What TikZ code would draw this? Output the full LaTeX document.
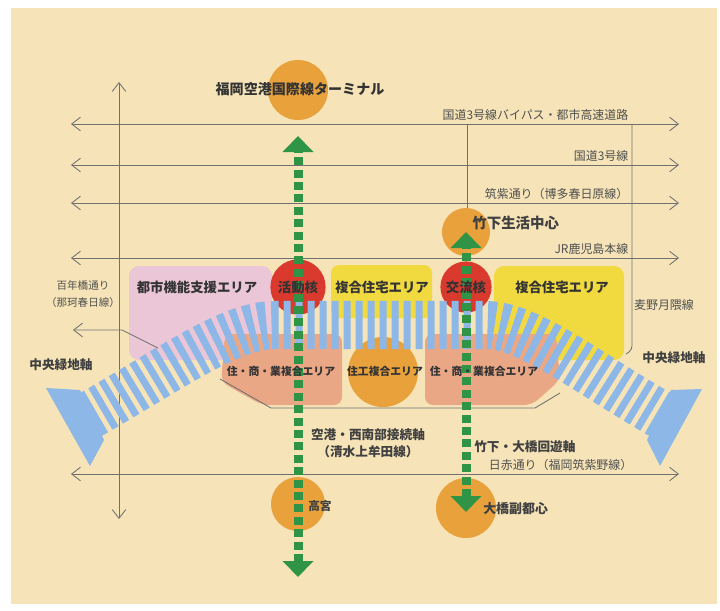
\documentclass[tikz,border=0pt]{standalone}
\usepackage{fontspec}
\setmainfont{Noto Sans CJK JP}
\usetikzlibrary{arrows.meta,calc}

\definecolor{paper}{HTML}{F6E4B8}
\definecolor{roadgray}{HTML}{707070}
\definecolor{labelgray}{HTML}{505050}
\definecolor{areapink}{HTML}{EBC6D6}
\definecolor{areayellow}{HTML}{F1D940}
\definecolor{areasalmon}{HTML}{E9A786}
\definecolor{coreorange}{HTML}{E9A13B}
\definecolor{corered}{HTML}{DA3A2E}
\definecolor{stripeblue}{HTML}{8DB7E6}
\definecolor{axisgreen}{HTML}{2F9445}

\begin{document}
\begin{tikzpicture}[x=0.025cm,y=-0.025cm,
    road/.style={draw=roadgray,line width=0.6pt},
    twoway/.style={{Straight Barb[length=0.22cm,width=0.34cm]}-{Straight Barb[length=0.22cm,width=0.34cm]}},
    roadlabel/.style={font=\fontsize{8.5}{10}\selectfont,text=labelgray,inner sep=1pt},
    arealabel/.style={font=\bfseries\fontsize{9.5}{11}\selectfont,text=black!80,inner sep=0pt},
    smalllabel/.style={font=\bfseries\fontsize{7.7}{9}\selectfont,text=black!80,inner sep=0pt},
    axislabel/.style={font=\bfseries\fontsize{9}{11}\selectfont,text=black!75,inner sep=0pt},
    hub/.style={circle,fill=#1,inner sep=0pt},
    band/.style={draw=stripeblue,line width=1.2cm,dash pattern=on 0.175cm off 0.125cm},
    greenaxis/.style={draw=axisgreen,line width=0.225cm,dash pattern=on 0.2cm off 0.11cm,
      {Triangle[width=0.75cm,length=0.4cm]}-{Triangle[width=0.75cm,length=0.4cm]}}]

  % paper
  \fill[white] (0,0) rectangle (720,610);
  \fill[paper] (11,8) rectangle (717,604);

  % roads
  \draw[road,twoway] (119,82) -- (119,519);
  \foreach \y in {124,165,203,258,474}
    \draw[road,twoway] (71,\y) -- (679,\y);
  \draw[road] (467,124) -- (467,220);

  % areas
  \fill[areapink,rounded corners=0.25cm] (129,266) rectangle (272,360);
  \fill[areayellow,rounded corners=0.2cm] (331,265) rectangle (432,318);
  \fill[areayellow,rounded corners=0.25cm] (494,266) rectangle (624,360);
  \fill[areasalmon,rounded corners=0.2cm] (225,334) -- (342,334) -- (342,405) -- (262,405) -- (221,382) -- cycle;
  \fill[areasalmon,rounded corners=0.2cm] (425,334) -- (556,334) -- (560,380) -- (532,405) -- (425,405) -- cycle;

  % side road, seen only outside the belt
  \draw[road,-{Straight Barb[length=0.22cm,width=0.34cm]}] (158,348) -- (122,330) -- (73,330);
  \draw[road] (220,379) -- (271,408) -- (535,408) -- (560,393);
  \draw[road,rounded corners=0.1cm] (632,124) -- (632,350) -- (626,354);

  % cores
  \node[hub=coreorange,minimum size=1.5cm] (air) at (298,90) {};
  \node[hub=coreorange,minimum size=1.2cm] (sub) at (466,232) {};
  \node[hub=coreorange,minimum size=1.75cm] (mix) at (383,372) {};
  \node[hub=coreorange,minimum size=1.35cm] (taka) at (298,504) {};
  \node[hub=coreorange,minimum size=1.5cm] (ohashi) at (466,508) {};
  \node[hub=corered,minimum size=1.38cm] (act) at (298,287) {};
  \node[hub=corered,minimum size=1.28cm] (exch) at (466,287) {};

  % green belt
  \draw[band] (90,415) .. controls (172,368) and (230,325) .. (275,325)
    -- (485,325) .. controls (528,325) and (580,368) .. (661,415);
  \fill[stripeblue] (80,390) -- (46,388) -- (90,466) -- (104,440) -- cycle;
  \fill[stripeblue] (671,390) -- (702,389) -- (660,466) -- (647,440) -- cycle;

  % axes
  \coordinate (a1s) at (298,577);
  \coordinate (a1n) at (298,136);
  \coordinate (a2n) at (466,232);
  \coordinate (a2s) at (466,512);
  \draw[greenaxis] (a1s) -- (a1n);
  \draw[greenaxis] (a2s) -- (a2n);

  % labels
  \node[font=\bfseries\fontsize{10}{12}\selectfont,text=black!80] at (300,89) {福岡空港国際線ターミナル};
  \node[roadlabel,anchor=south east] at (630,122) {国道3号線バイパス・都市高速道路};
  \node[roadlabel,anchor=south east] at (630,163) {国道3号線};
  \node[roadlabel,anchor=south east] at (630,201) {筑紫通り（博多春日原線）};
  \node[roadlabel,anchor=south east] at (630,256) {JR鹿児島本線};
  \node[roadlabel,anchor=south east] at (634,472) {日赤通り（福岡筑紫野線）};
  \node[roadlabel,align=center,font=\fontsize{7.5}{12}\selectfont] at (83,294) {百年橋通り\\（那珂春日線）};
  \node[roadlabel] at (664,305) {麦野月隈線};

  \node[arealabel] at (197,287) {都市機能支援エリア};
  \node[arealabel] at (act) {活動核};
  \node[arealabel] at (382,287) {複合住宅エリア};
  \node[arealabel] at (exch) {交流核};
  \node[arealabel] at (562,287) {複合住宅エリア};
  \node[smalllabel] at (281,371) {住・商・業複合エリア};
  \node[smalllabel] at (385,371) {住工複合エリア};
  \node[smalllabel] at (484,371) {住・商・業複合エリア};
  \node[axislabel] at (61,365) {中央緑地軸};
  \node[axislabel] at (674,358) {中央緑地軸};

  \node[axislabel,anchor=west,font=\bfseries\fontsize{10.3}{12}\selectfont] at (472,223) {竹下生活中心};
  \node[axislabel,align=center,font=\bfseries\fontsize{9}{12}\selectfont] at (368,443) {空港・西南部接続軸\\（清水上牟田線）};
  \node[axislabel,anchor=west] at (474,447) {竹下・大橋回遊軸};
  \node[axislabel,anchor=west,font=\bfseries\fontsize{8.3}{10}\selectfont] at (308,506) {高宮};
  \node[axislabel,anchor=west,font=\bfseries\fontsize{9.2}{11}\selectfont] at (483,509) {大橋副都心};
\end{tikzpicture}
\end{document}
